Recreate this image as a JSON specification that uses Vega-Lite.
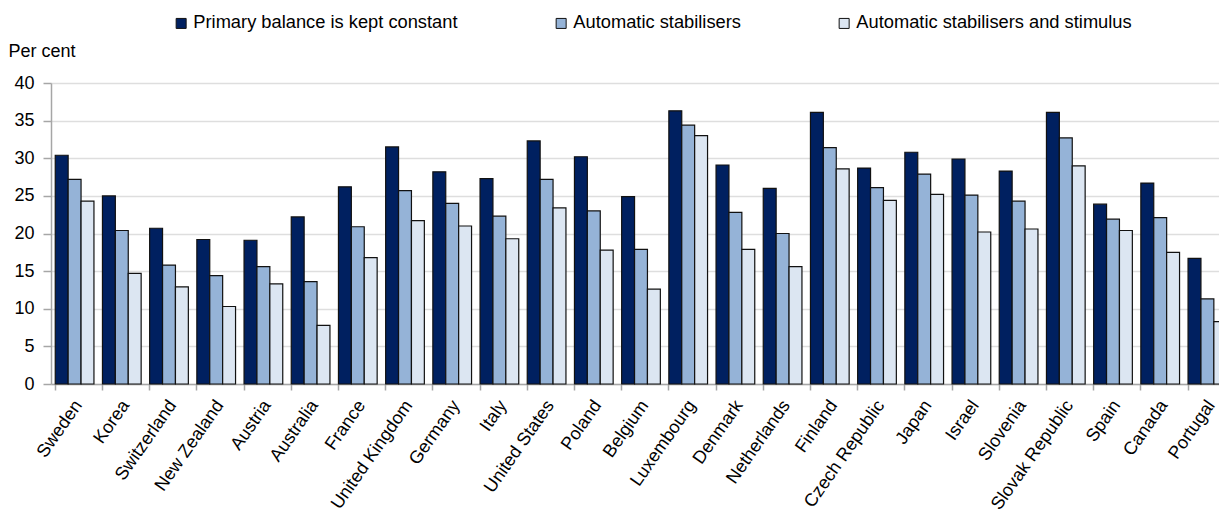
{
  "$schema": "https://vega.github.io/schema/vega-lite/v6.json",
  "width": 1180,
  "height": 301,
  "autosize": {"type": "none"},
  "padding": {"left": 51, "top": 83, "right": 0, "bottom": 130},
  "background": "white",
  "config": {
    "view": {"stroke": null},
    "font": "Liberation Sans",
    "axis": {"labelFont": "Liberation Sans", "titleFont": "Liberation Sans", "labelColor": "#000000", "titleColor": "#000000"},
    "legend": {"labelFont": "Liberation Sans"}
  },
  "data": {
    "values": [
      {"country": "Sweden", "series": "Primary balance is kept constant", "value": 30.4},
      {"country": "Sweden", "series": "Automatic stabilisers", "value": 27.2},
      {"country": "Sweden", "series": "Automatic stabilisers and stimulus", "value": 24.3},
      {"country": "Korea", "series": "Primary balance is kept constant", "value": 25.0},
      {"country": "Korea", "series": "Automatic stabilisers", "value": 20.4},
      {"country": "Korea", "series": "Automatic stabilisers and stimulus", "value": 14.7},
      {"country": "Switzerland", "series": "Primary balance is kept constant", "value": 20.7},
      {"country": "Switzerland", "series": "Automatic stabilisers", "value": 15.8},
      {"country": "Switzerland", "series": "Automatic stabilisers and stimulus", "value": 12.9},
      {"country": "New Zealand", "series": "Primary balance is kept constant", "value": 19.2},
      {"country": "New Zealand", "series": "Automatic stabilisers", "value": 14.4},
      {"country": "New Zealand", "series": "Automatic stabilisers and stimulus", "value": 10.3},
      {"country": "Austria", "series": "Primary balance is kept constant", "value": 19.1},
      {"country": "Austria", "series": "Automatic stabilisers", "value": 15.6},
      {"country": "Austria", "series": "Automatic stabilisers and stimulus", "value": 13.3},
      {"country": "Australia", "series": "Primary balance is kept constant", "value": 22.2},
      {"country": "Australia", "series": "Automatic stabilisers", "value": 13.6},
      {"country": "Australia", "series": "Automatic stabilisers and stimulus", "value": 7.8},
      {"country": "France", "series": "Primary balance is kept constant", "value": 26.2},
      {"country": "France", "series": "Automatic stabilisers", "value": 20.9},
      {"country": "France", "series": "Automatic stabilisers and stimulus", "value": 16.8},
      {"country": "United Kingdom", "series": "Primary balance is kept constant", "value": 31.5},
      {"country": "United Kingdom", "series": "Automatic stabilisers", "value": 25.7},
      {"country": "United Kingdom", "series": "Automatic stabilisers and stimulus", "value": 21.7},
      {"country": "Germany", "series": "Primary balance is kept constant", "value": 28.2},
      {"country": "Germany", "series": "Automatic stabilisers", "value": 24.0},
      {"country": "Germany", "series": "Automatic stabilisers and stimulus", "value": 21.0},
      {"country": "Italy", "series": "Primary balance is kept constant", "value": 27.3},
      {"country": "Italy", "series": "Automatic stabilisers", "value": 22.3},
      {"country": "Italy", "series": "Automatic stabilisers and stimulus", "value": 19.3},
      {"country": "United States", "series": "Primary balance is kept constant", "value": 32.3},
      {"country": "United States", "series": "Automatic stabilisers", "value": 27.2},
      {"country": "United States", "series": "Automatic stabilisers and stimulus", "value": 23.4},
      {"country": "Poland", "series": "Primary balance is kept constant", "value": 30.2},
      {"country": "Poland", "series": "Automatic stabilisers", "value": 23.0},
      {"country": "Poland", "series": "Automatic stabilisers and stimulus", "value": 17.8},
      {"country": "Belgium", "series": "Primary balance is kept constant", "value": 24.9},
      {"country": "Belgium", "series": "Automatic stabilisers", "value": 17.9},
      {"country": "Belgium", "series": "Automatic stabilisers and stimulus", "value": 12.6},
      {"country": "Luxembourg", "series": "Primary balance is kept constant", "value": 36.3},
      {"country": "Luxembourg", "series": "Automatic stabilisers", "value": 34.4},
      {"country": "Luxembourg", "series": "Automatic stabilisers and stimulus", "value": 33.0},
      {"country": "Denmark", "series": "Primary balance is kept constant", "value": 29.1},
      {"country": "Denmark", "series": "Automatic stabilisers", "value": 22.8},
      {"country": "Denmark", "series": "Automatic stabilisers and stimulus", "value": 17.9},
      {"country": "Netherlands", "series": "Primary balance is kept constant", "value": 26.0},
      {"country": "Netherlands", "series": "Automatic stabilisers", "value": 20.0},
      {"country": "Netherlands", "series": "Automatic stabilisers and stimulus", "value": 15.6},
      {"country": "Finland", "series": "Primary balance is kept constant", "value": 36.1},
      {"country": "Finland", "series": "Automatic stabilisers", "value": 31.4},
      {"country": "Finland", "series": "Automatic stabilisers and stimulus", "value": 28.6},
      {"country": "Czech Republic", "series": "Primary balance is kept constant", "value": 28.7},
      {"country": "Czech Republic", "series": "Automatic stabilisers", "value": 26.1},
      {"country": "Czech Republic", "series": "Automatic stabilisers and stimulus", "value": 24.4},
      {"country": "Japan", "series": "Primary balance is kept constant", "value": 30.8},
      {"country": "Japan", "series": "Automatic stabilisers", "value": 27.9},
      {"country": "Japan", "series": "Automatic stabilisers and stimulus", "value": 25.2},
      {"country": "Israel", "series": "Primary balance is kept constant", "value": 29.9},
      {"country": "Israel", "series": "Automatic stabilisers", "value": 25.1},
      {"country": "Israel", "series": "Automatic stabilisers and stimulus", "value": 20.2},
      {"country": "Slovenia", "series": "Primary balance is kept constant", "value": 28.3},
      {"country": "Slovenia", "series": "Automatic stabilisers", "value": 24.3},
      {"country": "Slovenia", "series": "Automatic stabilisers and stimulus", "value": 20.6},
      {"country": "Slovak Republic", "series": "Primary balance is kept constant", "value": 36.1},
      {"country": "Slovak Republic", "series": "Automatic stabilisers", "value": 32.7},
      {"country": "Slovak Republic", "series": "Automatic stabilisers and stimulus", "value": 29.0},
      {"country": "Spain", "series": "Primary balance is kept constant", "value": 23.9},
      {"country": "Spain", "series": "Automatic stabilisers", "value": 21.9},
      {"country": "Spain", "series": "Automatic stabilisers and stimulus", "value": 20.4},
      {"country": "Canada", "series": "Primary balance is kept constant", "value": 26.7},
      {"country": "Canada", "series": "Automatic stabilisers", "value": 22.1},
      {"country": "Canada", "series": "Automatic stabilisers and stimulus", "value": 17.5},
      {"country": "Portugal", "series": "Primary balance is kept constant", "value": 16.7},
      {"country": "Portugal", "series": "Automatic stabilisers", "value": 11.3},
      {"country": "Portugal", "series": "Automatic stabilisers and stimulus", "value": 8.3}
    ]
  },
  "mark": {"type": "bar", "stroke": "#111111", "strokeWidth": 1.2},
  "encoding": {
    "x": {
      "field": "country",
      "type": "nominal",
      "sort": null,
      "scale": {"paddingInner": 0.18, "paddingOuter": 0.09},
      "axis": {
        "title": null,
        "labelAngle": -55,
        "bandPosition": 0,
        "domainColor": "#a6a6a6",
        "domainWidth": 1.5,
        "tickColor": "#a6a6a6",
        "tickWidth": 1.5,
        "tickSize": 6,
        "labelPadding": 12,
        "labelOffset": 4,
        "labelFontSize": 18,
        "labelAlign": "right",
        "labelBaseline": "middle"
      }
    },
    "xOffset": {
      "field": "series",
      "type": "nominal",
      "sort": ["Primary balance is kept constant", "Automatic stabilisers", "Automatic stabilisers and stimulus"],
      "scale": {"paddingInner": 0, "paddingOuter": 0}
    },
    "y": {
      "field": "value",
      "type": "quantitative",
      "scale": {"domain": [0, 40], "nice": false},
      "axis": {
        "values": [0, 5, 10, 15, 20, 25, 30, 35, 40],
        "grid": true,
        "gridColor": "#dedede",
        "gridWidth": 1.5,
        "domainColor": "#a6a6a6",
        "domainWidth": 1.5,
        "tickColor": "#a6a6a6",
        "tickWidth": 1.5,
        "tickSize": 8,
        "labelPadding": 9,
        "labelFontSize": 18,
        "title": "Per cent",
        "titleAngle": 0,
        "titleX": -43,
        "titleY": -27,
        "titleAlign": "left",
        "titleBaseline": "alphabetic",
        "titleFontWeight": "normal",
        "titleFontSize": 18
      }
    },
    "color": {
      "field": "series",
      "type": "nominal",
      "sort": ["Primary balance is kept constant", "Automatic stabilisers", "Automatic stabilisers and stimulus"],
      "scale": {
        "domain": ["Primary balance is kept constant", "Automatic stabilisers", "Automatic stabilisers and stimulus"],
        "range": ["#002060", "#95b3d7", "#dce6f2"]
      },
      "legend": {
        "title": null,
        "orient": "none",
        "direction": "horizontal",
        "legendX": 121,
        "legendY": -69,
        "padding": 0,
        "symbolType": "square",
        "symbolSize": 100,
        "symbolStrokeColor": "#111111",
        "symbolStrokeWidth": 1,
        "symbolOpacity": 1,
        "labelFontSize": 18.3,
        "labelOffset": 3,
        "columnPadding": 94,
        "labelLimit": 400
      }
    }
  }
}
